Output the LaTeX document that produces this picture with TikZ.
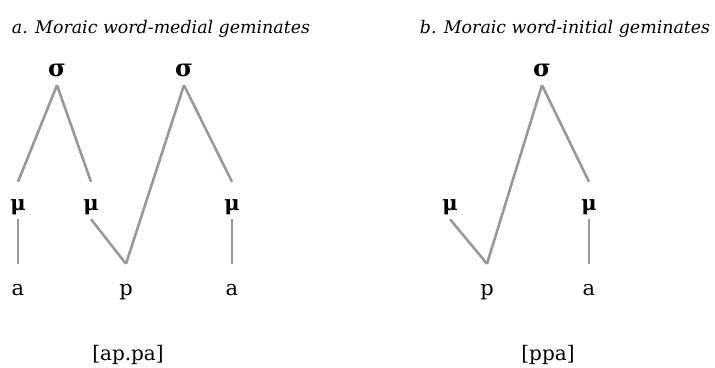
\documentclass[tikz,border=0pt]{standalone}
\usepackage{fontspec}
\setmainfont{DejaVu Serif}
\begin{document}
\begin{tikzpicture}[x=1pt,y=-1pt,
    title/.style={font=\fontsize{17.4}{20}\selectfont\itshape, anchor=base, inner sep=0pt},
    syl/.style={font=\fontsize{24}{26}\selectfont\bfseries, anchor=base, inner xsep=0pt, inner ysep=9pt, text height=12pt, text depth=0pt},
    mora/.style={font=\fontsize{21}{24}\selectfont\bfseries, anchor=base, inner sep=0pt, text height=28pt, text depth=9pt},
    seg/.style={font=\fontsize{21}{24}\selectfont, anchor=base, inner sep=0pt, text height=31pt, text depth=0pt},
    form/.style={font=\fontsize{20}{24}\selectfont, anchor=base, inner sep=0pt},
    link/.style={draw=black!40, line width=2.6pt}]
    \useasboundingbox (0,0) rectangle (715,367);

    % Titles
    \node[title] (ta) at (161,33) {a. Moraic word-medial geminates};
    \node[title] (tb) at (565,33) {b. Moraic word-initial geminates};

    % a. word-medial
    \node[syl] (s1) at (57,76) {σ};
    \node[syl] (s2) at (184,76) {σ};
    \node[mora] (m1) at (18,210) {μ};
    \node[mora] (m2) at (91,210) {μ};
    \node[mora] (m3) at (232,210) {μ};
    \node[seg] (a1) at (18,295) {a};
    \node[seg] (p1) at (126,295) {p};
    \node[seg] (a2) at (232,295) {a};
    \node[form] (fa) at (128,360) {[ap.pa]};

    % b. word-initial
    \node[syl] (s3) at (542,76) {σ};
    \node[mora] (m4) at (450,210) {μ};
    \node[mora] (m5) at (589,210) {μ};
    \node[seg] (p2) at (487,295) {p};
    \node[seg] (a3) at (589,295) {a};
    \node[form] (fb) at (548,360) {[ppa]};

    % Association lines
    \foreach \u/\v in {s1/m1, s1/m2, s2/p1, s2/m3, m1/a1, m2/p1, m3/a2,
                       s3/p2, s3/m5, m4/p2, m5/a3}
        \draw[link] (\u.south) -- (\v.north);
\end{tikzpicture}
\end{document}
